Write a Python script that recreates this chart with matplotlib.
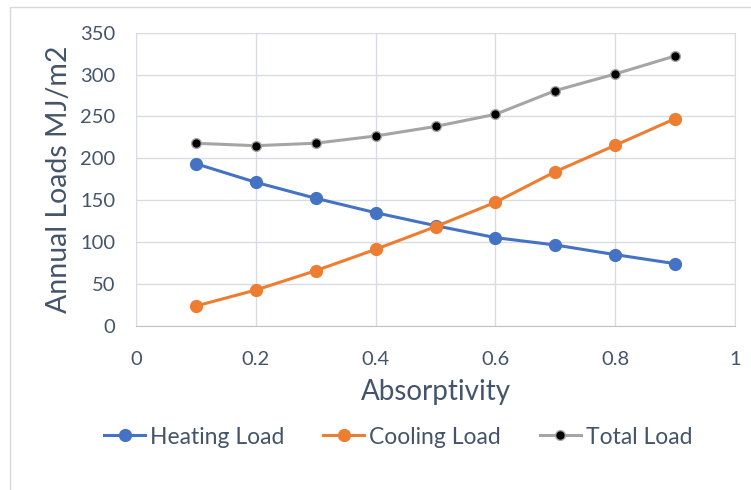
import matplotlib
matplotlib.use('Agg')
import matplotlib.pyplot as plt
from matplotlib.patches import Rectangle

# values
absorptivity = [0.1, 0.2, 0.3, 0.4, 0.5, 0.6, 0.7, 0.8, 0.9]
heating_load = [193.5, 171.3, 152.2, 135.0, 119.5, 105.2, 96.4, 84.9, 74.1]
cooling_load = [23.5, 42.6, 65.7, 91.2, 118.3, 147.4, 184.0, 215.5, 247.3]
total_load = [217.9, 215.0, 218.0, 226.6, 238.0, 252.5, 280.8, 300.7, 322.2]

x_ticks = [0, 0.2, 0.4, 0.6, 0.8, 1]
x_tick_labels = ['0', '0.2', '0.4', '0.6', '0.8', '1']
y_ticks = [0, 50, 100, 150, 200, 250, 300, 350]

plt.rcParams['font.family'] = ['Lato', 'DejaVu Sans']
text_color = '#44546A'
grid_color = '#D9DCE3'

fig = plt.figure(figsize=(7.51, 4.90), dpi=100)
ax = fig.add_axes([136/751, 1 - 325.7/490, (735 - 136)/751, (325.7 - 32.7)/490])

# outer chart area border (only left and top are visible in the crop)
fig.patches.append(Rectangle((10/751, -0.1), 1.2, 1 - 7/490 + 0.1, transform=fig.transFigure,
                             fill=False, edgecolor='#D9D9D9', linewidth=1))

ax.plot(absorptivity, heating_load, color='#4472C4', linewidth=2.2, marker='o',
        markersize=8.5, label='Heating Load', zorder=3)
ax.plot(absorptivity, cooling_load, color='#ED7D31', linewidth=2.2, marker='o',
        markersize=8.5, label='Cooling Load', zorder=3)
ax.plot(absorptivity, total_load, color='#A5A5A5', linewidth=2.2, marker='o',
        markersize=7, markerfacecolor='black', markeredgecolor='#A5A5A5',
        markeredgewidth=1, label='Total Load', zorder=3)

ax.set_xlim(0, 1)
ax.set_ylim(0, 350)
ax.set_xticks(x_ticks)
ax.set_xticklabels(x_tick_labels)
ax.set_yticks(y_ticks)
ax.tick_params(length=0, labelsize=14.5, labelcolor=text_color)
ax.tick_params(axis='x', pad=18)
ax.tick_params(axis='y', pad=15)

ax.grid(True, color=grid_color, linewidth=1)
ax.set_axisbelow(True)
for side in ['top', 'right', 'left']:
    ax.spines[side].set_color(grid_color)
ax.spines['bottom'].set_color('#BFC3CB')

ax.set_xlabel('Absorptivity', fontsize=20, color=text_color, labelpad=8)
ax.set_ylabel('Annual Loads MJ/m2', fontsize=20.5, color=text_color, labelpad=6)

fig.legend(loc='center', bbox_to_anchor=(398/751, 1 - 437/490), ncol=3, frameon=False,
           fontsize=16.5, labelcolor=text_color, handlelength=1.8, handletextpad=0.2,
           columnspacing=1.7)

fig.savefig('out.png', dpi=100)
